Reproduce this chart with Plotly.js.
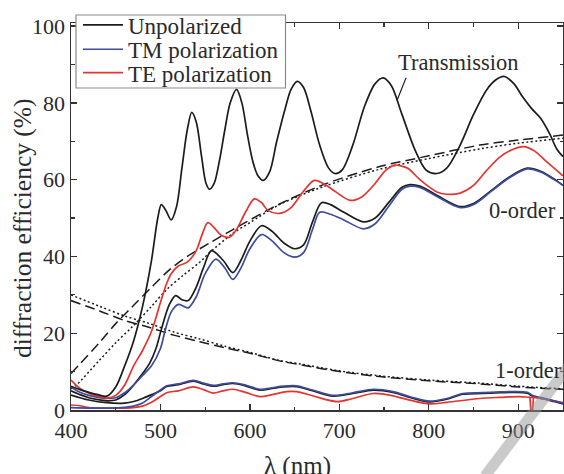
<!DOCTYPE html>
<html>
<head>
<meta charset="utf-8">
<script src="https://cdn.plot.ly/plotly-3.0.1.min.js"></script>
<style>html,body{margin:0;padding:0;background:#fff;}#chart{width:564px;height:474px;}</style>
</head>
<body>
<div id="chart"></div>
<script>
// ---- Data ----
// Transmission, unpolarized (black solid)
var wlTrans = [400,410,420,430,440,450,460,470,480,490,497,501,506,512,518,524,530,535,540,546,551,555,560,566,572,578,585,591,597,603,609,615,622,630,640,646,653,660,668,678,688,695,703,715,728,740,749,758,770,785,797,809,820,835,850,865,875,884,895,905,915,925,935,943,950];
var trans   = [6.2,5.3,4.6,4.0,3.6,6.0,11.5,18,27,39,50,53.5,52,49.5,53,63,73,77.5,75,66,59,57.5,59,65,73,80,83.5,80,72,65,61,59.8,62,70,79,83.5,85.6,84,78,69,63,61.6,62.5,69,79,85,86.5,84.5,77,67.5,62.5,61.6,63,69,77,83.5,86,86.9,85,81.5,78.5,76,72,68,66];

// 0-order, TE polarization (red)
var wlTE0 = [400,410,420,430,440,450,460,470,480,490,500,507,512,520,530,540,547,553,560,568,577,585,595,605,613,620,633,645,660,672,682,695,712,725,740,752,762,770,777,790,809,820,835,850,865,880,893,906,918,930,940,950];
var te0   = [7.8,5.6,4.4,3.6,3.1,3.8,6.5,11.5,15.5,20.5,28,33,35.5,37.5,38.5,41.5,46,48.8,47.5,45.5,45,47,51.5,55,54,52,51.2,52.5,57,59.8,59,57,54.6,55.5,59,62.5,63.8,63.5,62.9,60,56.8,56.2,56.5,58.5,62.5,66,67.8,68.6,67.5,65,63,61];

// 0-order, TM polarization (blue)
var wlTM0 = [400,410,420,430,440,450,460,470,480,490,500,505,512,520,526,531,540,550,562,572,581,590,600,613,625,638,650,660,670,678,690,705,727,740,755,770,779,790,810,835,850,870,890,910,925,940,950];
var tm0   = [6.0,4.6,3.8,3.3,3.0,3.2,4.5,6.5,9,11.5,16,20.5,25.5,27.5,27,26.6,29.5,35.5,39.3,37,34,37,42,45.7,44,41,39.8,41,47,51.5,51,49.5,47.2,48.5,53,57.5,58.3,58,55.5,52.7,53.5,57,60.5,62.8,62,60,58.5];

// 0-order, unpolarized (black)
var wlUn0 = [400,410,420,430,440,450,460,470,480,488,495,501,510,517,524,531,540,548,557,570,581,590,600,613,625,638,650,660,670,680,690,705,727,740,755,770,779,790,810,835,850,870,890,910,925,940,950];
var un0   = [5.0,4.0,3.2,2.7,2.4,2.6,4.0,6.5,9.5,12.2,16,21,27.5,29.8,28.7,28.5,32,37,41.5,39,35.8,39,44,48,46.5,43.5,42,43,49,54,53.5,51.5,49,50,54,58,58.7,58.3,55.8,53,53.8,57.2,60.7,63,62.2,60.2,58.5];

// 1-order, unpolarized (black, hidden under the blue curve above ~500 nm)
var wlUn1 = [400,420,440,460,470,480,490,500,507,520,537,548,559,570,581,595,611,625,637,652,670,693,715,738,760,780,801,820,838,860,880,895,910,917,930,940,950];
var un1   = [3.9,2.6,1.9,1.8,2.2,3.0,4.0,5.0,6.1,6.6,7.5,6.8,6.2,6.6,6.9,6.3,5.2,5.6,6.0,6.1,5.0,3.6,4.3,5.2,4.6,3.2,2.1,2.8,4.1,4.3,4.5,4.6,4.4,3.5,2.8,2.2,1.6];

// 1-order, TM polarization (blue)
var wlTM1 = [400,420,440,460,470,480,490,500,507,520,537,548,559,570,581,595,611,625,637,652,670,693,715,738,760,780,801,820,838,860,880,895,910,917,930,940,950];
var tm1   = [0.6,0.5,0.5,0.7,1.0,1.8,3.5,5.2,6.3,6.8,7.7,7.0,6.4,6.8,7.1,6.5,5.4,5.8,6.2,6.3,5.2,3.8,4.5,5.4,4.8,3.4,2.3,3.0,4.3,4.5,4.7,4.8,4.6,3.7,3.0,2.4,1.8];

// 1-order, TE polarization (red)
var wlTE1 = [400,410,420,440,460,470,480,490,500,507,520,537,548,559,570,581,595,611,625,641,652,670,697,715,738,760,780,801,820,857,880,902,913,918,930,940,950];
var te1   = [1.3,1.1,0.6,0.5,0.5,0.6,1.0,2.0,3.5,4.5,5.0,6.0,5.3,4.4,5.0,5.4,4.6,3.5,4.0,4.8,4.8,3.7,2.2,3.0,4.3,3.7,2.5,1.6,2.0,3.0,3.3,3.5,3.3,3.3,2.8,2.4,1.9];
// narrow glitch in the TE 1-order spectrum near 915 nm
var wlTE1Glitch = [913,914,916,917];
var te1Glitch   = [3.3,0.1,0.1,3.2];

// Model curves: 0-order (rising) and 1-order (falling), dashed and dotted
var wlModel0 = [400,410,432,450,469,490,510,530,555,581,600,630,680,745,800,857,900,950];
var dash0    = [9.5,12,17.6,22.5,27,32,36.5,40,43.5,47,49.5,53.3,58.5,63.4,66.2,69,70.3,71.6];
var wlDot0   = [400,406,432,450,469,490,507,525,544,555,581,600,633,680,745,800,857,900,950];
var dot0     = [5.5,6.5,13,17.5,21.8,27,31.4,35,38.5,41,46,48.8,53.5,58,62.7,65.5,68,69.5,70.8];
var wlModel1 = [400,432,460,488,515,544,572,600,633,656,700,745,800,857,900,950];
var dash1    = [28.5,25.8,23.3,21.5,19.5,17.8,16.2,14.8,12.8,11.8,10,8.7,7.6,6.8,6.0,5.4];
var dot1     = [30,27,24.5,22.5,20.3,18.5,16.6,15,12.9,12,10.2,8.9,7.8,7.0,6.2,5.5];

var xTicks = [400,500,600,700,800,900];
var yTicks = [0,20,40,60,80,100];

// ---- Styling ----
var FONT = '"Liberation Serif", "Times New Roman", serif';
var TXT = '#2a2a2a';
var BLACK = '#1c1c1c', BLUE = '#3d4c9e', RED = '#e3342f';
var LW = 1.7;
function sp(color, w, dash){ var l = {color:color, width:w, shape:'spline', smoothing:0.9}; if(dash) l.dash = dash; return l; }

var traces = [
  {x: wlModel0, y: dash0, mode:'lines', line:sp(BLACK,1.5,'10px,5px'), showlegend:false},
  {x: wlDot0, y: dot0, mode:'lines', line:sp(BLACK,1.5,'2px,2.5px'), showlegend:false},
  {x: wlModel1, y: dash1, mode:'lines', line:sp(BLACK,1.5,'10px,5px'), showlegend:false},
  {x: wlModel1, y: dot1, mode:'lines', line:sp(BLACK,1.5,'2px,2.5px'), showlegend:false},
  {x: wlUn1, y: un1, mode:'lines', line:sp(BLACK,LW), showlegend:false},
  {x: wlTE1, y: te1, mode:'lines', line:sp(RED,LW), showlegend:false},
  {x: wlTE1Glitch, y: te1Glitch, mode:'lines', line:{color:RED, width:LW}, showlegend:false},
  {x: wlTM1, y: tm1, mode:'lines', line:sp(BLUE,LW), showlegend:false},
  {x: wlUn0, y: un0, mode:'lines', line:sp(BLACK,LW), showlegend:false},
  {x: wlTM0, y: tm0, mode:'lines', line:sp(BLUE,LW), showlegend:false},
  {x: wlTE0, y: te0, mode:'lines', line:sp(RED,LW), showlegend:false},
  {x: wlTrans, y: trans, mode:'lines', name:'Unpolarized', line:sp(BLACK,LW), legend:'legend'},
  {x: [null], y: [null], mode:'lines', name:'TM polarization', line:{color:BLUE, width:LW}, legend:'legend2'},
  {x: [null], y: [null], mode:'lines', name:'TE polarization', line:{color:RED, width:LW}, legend:'legend3'}
];

var legBase = {xanchor:'left', yanchor:'middle', bgcolor:'rgba(0,0,0,0)', borderwidth:0,
  font:{family:FONT, size:23, color:TXT}, itemwidth:40};
function leg(ypx){ var o = JSON.parse(JSON.stringify(legBase)); o.x = (78-71)/492; o.y = (410-ypx)/387; return o; }

var axisCommon = {
  showline:true, linecolor:'#333', linewidth:1.5, mirror:'ticks',
  ticks:'inside', ticklen:6, tickwidth:1.3, tickcolor:'#333',
  showgrid:false, zeroline:false,
  tickfont:{family:FONT, size:22, color:TXT}
};

var layout = {
  width:564, height:474,
  margin:{l:71, r:1, t:23, b:64},
  paper_bgcolor:'#fff', plot_bgcolor:'#fff',
  xaxis: Object.assign({}, axisCommon, {range:[400,950], tickvals:xTicks, ticktext:xTicks.map(String),
    minor:{tickvals:[450,550,650,750,850], ticks:'inside', ticklen:3.5, tickcolor:'#333', tickwidth:1.2}}),
  yaxis: Object.assign({}, axisCommon, {range:[0,100.8], tickvals:yTicks, ticktext:yTicks.map(String),
    minor:{tickvals:[10,30,50,70,90], ticks:'inside', ticklen:3.5, tickcolor:'#333', tickwidth:1.2}}),
  legend: leg(25),
  legend2: leg(49.3),
  legend3: leg(72.7),
  shapes:[
    {type:'rect', xref:'paper', yref:'paper', x0:(76-71)/492, x1:(285.5-71)/492, y0:(410-88)/387, y1:(410-15)/387,
     line:{color:'#8a8a8a', width:1.2}, fillcolor:'#fff', layer:'above'},
    {type:'line', xref:'x', yref:'y', x0:774.5, y0:86.5, x1:764.5, y1:80.7, line:{color:BLACK, width:1.2}},
    {type:'line', xref:'paper', yref:'paper', x0:(485-71)/492, y0:(410-476)/387, x1:(568-71)/492, y1:(410-367)/387,
     line:{color:'rgba(150,150,150,0.5)', width:11}, layer:'above'}
  ],
  annotations:[
    {text:'diffraction efficiency (%)', xref:'paper', yref:'paper', x:(22-71)/492, y:(410-228)/387,
     textangle:-90, showarrow:false, xanchor:'center', yanchor:'middle', font:{family:FONT, size:25.5, color:TXT}},
    {text:'λ (nm)', xref:'paper', yref:'paper', x:(297.5-71)/492, y:(410-466)/387,
     showarrow:false, xanchor:'center', yanchor:'middle', font:{family:FONT, size:25, color:TXT}},
    {text:'Transmission', xref:'x', yref:'y', x:832.5, y:(410-63)/3.839, showarrow:false,
     xanchor:'center', yanchor:'middle', font:{family:FONT, size:22.5, color:TXT}},
    {text:'0-order', xref:'x', yref:'y', x:905, y:(410-211)/3.839, showarrow:false,
     xanchor:'center', yanchor:'middle', font:{family:FONT, size:22.5, color:TXT}},
    {text:'1-order', xref:'x', yref:'y', x:911, y:(410-370)/3.839, showarrow:false,
     xanchor:'center', yanchor:'middle', font:{family:FONT, size:22.5, color:TXT}}
  ]
};

Plotly.newPlot('chart', traces, layout, {displayModeBar:false, staticPlot:true});
</script>
</body>
</html>
